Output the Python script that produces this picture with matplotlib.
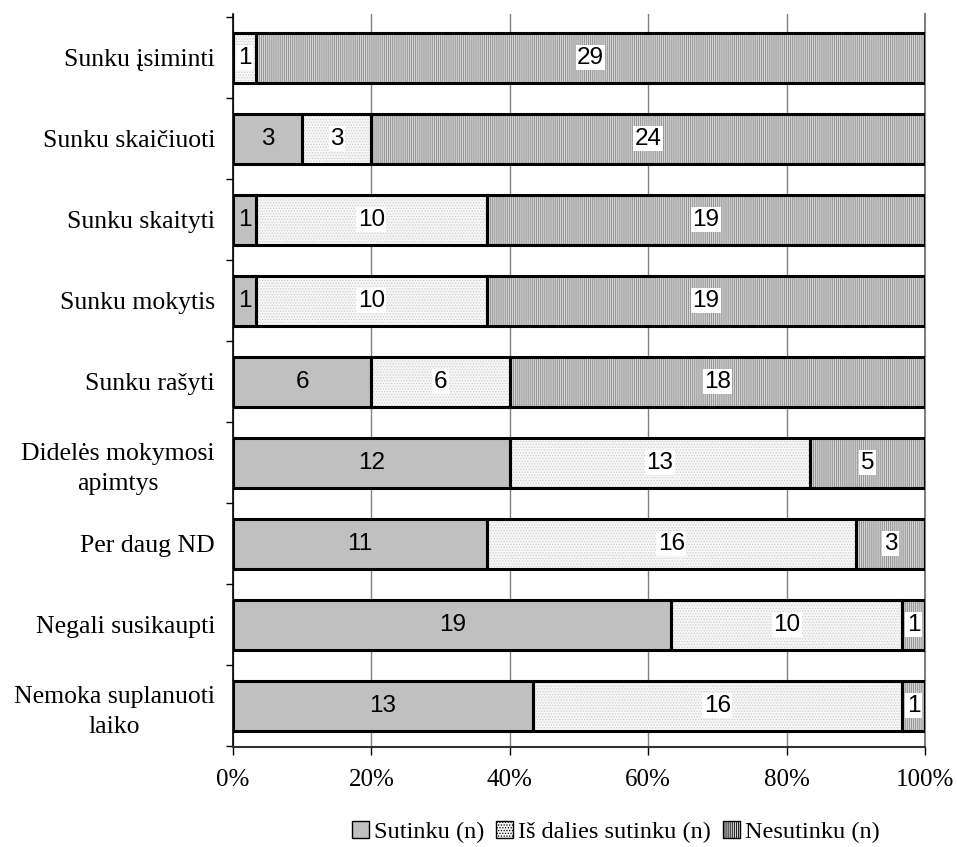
import matplotlib
matplotlib.use("Agg")
import matplotlib.pyplot as plt
import numpy as np
from matplotlib.patches import Patch

categories = ["Sunku įsiminti", "Sunku skaičiuoti", "Sunku skaityti", "Sunku mokytis",
              "Sunku rašyti", "Didelės mokymosi\napimtys", "Per daug ND",
              "Negali susikaupti", "Nemoka suplanuoti\nlaiko"]
sutinku = [0, 3, 1, 1, 6, 12, 11, 19, 13]
is_dalies = [1, 3, 10, 10, 6, 13, 16, 10, 16]
nesutinku = [29, 24, 19, 19, 18, 5, 3, 1, 1]
series_names = ["Sutinku (n)", "Iš dalies sutinku (n)", "Nesutinku (n)"]
xticks = [0, 20, 40, 60, 80, 100]

plt.rcParams['hatch.linewidth'] = 0.6
serif = ["Liberation Serif", "DejaVu Serif"]
sans = ["Liberation Sans", "DejaVu Sans"]

fig = plt.figure(figsize=(9.57, 8.47), dpi=100)
ax = fig.add_axes([233/957, 1-747/847, (925-233)/957, (747-14)/847])

data = np.array([sutinku, is_dalies, nesutinku], dtype=float)
totals = data.sum(axis=0)
pct = data / totals * 100
y = np.arange(len(categories))
h = 0.62

styles = [
    dict(facecolor="#c0c0c0", hatch=None, hcolor=None),
    dict(facecolor="#f7f7f7", hatch="......", hcolor="#cfcfcf"),
    dict(facecolor="#d4d4d4", hatch="||||||||", hcolor="#8c8c8c"),
]

ax.set_axisbelow(True)
left = np.zeros(len(categories))
for i in range(3):
    st = styles[i]
    ax.barh(y, pct[i], left=left, height=h, color=st["facecolor"],
            hatch=st["hatch"], edgecolor=st["hcolor"] if st["hcolor"] else st["facecolor"],
            linewidth=0, zorder=2)
    ax.barh(y, pct[i], left=left, height=h, fill=False, edgecolor="black",
            linewidth=2.2, zorder=3)
    for j in range(len(categories)):
        v = data[i, j]
        if v == 0:
            continue
        cx = left[j] + pct[i, j] / 2
        kw = {}
        if i > 0:
            kw["bbox"] = dict(facecolor="white", edgecolor="none", pad=1.0)
        ax.text(cx, y[j], f"{int(v)}", ha="center", va="center", fontsize=17.5,
                family=sans, zorder=4, **kw)
    left += pct[i]

ax.set_xlim(0, 100)
ax.set_ylim(len(categories) - 0.5 + 0.01, -0.5 - 0.04)
ax.set_xticks(xticks)
ax.set_xticklabels([f"{t}%" for t in xticks], family=serif, fontsize=18)
ax.set_yticks(y)
ax.set_yticklabels(categories, family=serif, fontsize=18.5)
for lab in ax.get_yticklabels():
    lab.set_multialignment("center")
    lab.set_linespacing(1.45)
ax.set_yticks(np.arange(len(categories) + 1) - 0.5, minor=True)
ax.tick_params(axis="y", which="major", length=0, pad=13)
ax.tick_params(axis="y", which="minor", length=5, width=1, direction="out")
ax.tick_params(axis="x", which="major", length=6, width=1, direction="out", pad=10)

ax.grid(axis="x", color="#808080", linewidth=1, zorder=0)
ax.spines["top"].set_visible(False)
ax.spines["right"].set_color("#808080")
ax.spines["right"].set_linewidth(1.5)
ax.spines["left"].set_linewidth(1.2)
ax.spines["bottom"].set_linewidth(1.5)
ax.spines["bottom"].set_color("#333333")

handles = [Patch(facecolor=styles[i]["facecolor"], hatch=styles[i]["hatch"],
                 edgecolor="black", linewidth=1) for i in range(3)]
fig.legend(handles, series_names, loc="center", bbox_to_anchor=(616/957, 1-832/847),
           ncol=3, frameon=False, prop={"family": serif, "size": 17.5},
           handlelength=0.7, handleheight=0.7, handletextpad=0.2, columnspacing=0.5)

fig.savefig("out.png", dpi=100)
